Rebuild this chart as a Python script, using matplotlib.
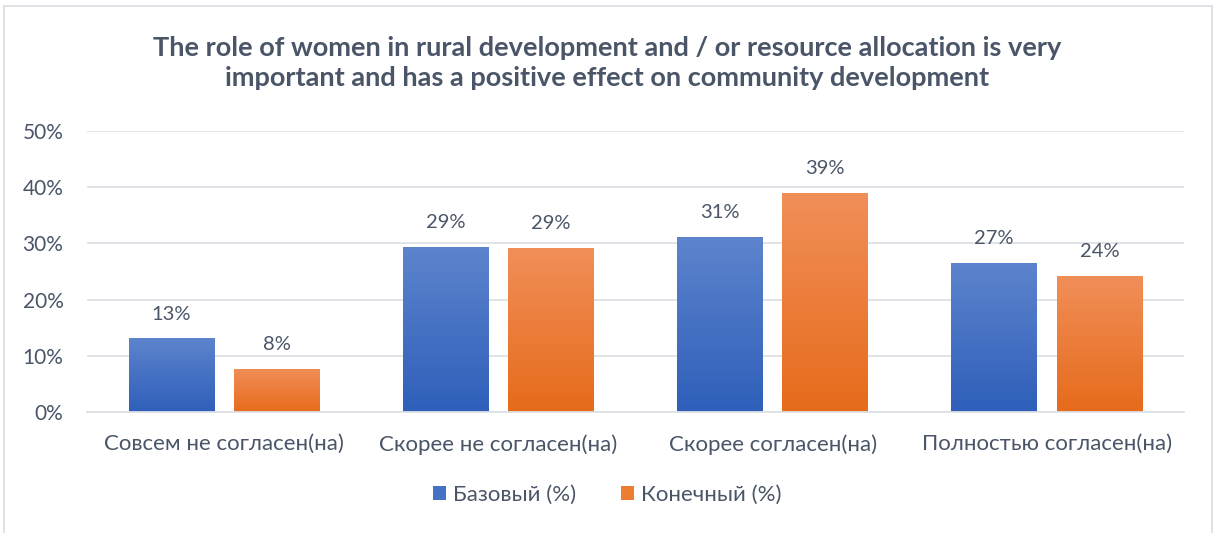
import numpy as np
import matplotlib

matplotlib.use("Agg")
import matplotlib.pyplot as plt
from matplotlib.colors import LinearSegmentedColormap
from matplotlib.patches import Rectangle

categories = [
    "Совсем не согласен(на)",
    "Скорее не согласен(на)",
    "Скорее согласен(на)",
    "Полностью согласен(на)",
]
base_pct = [13.1, 29.4, 31.2, 26.6]
final_pct = [7.7, 29.2, 39.0, 24.2]
series_names = ["Базовый (%)", "Конечный (%)"]

TEXT = "#4a5568"
GRID = "#dde1e6"
BLUE_TOP, BLUE_BOT = "#5d84cd", "#2f5fba"
ORANGE_TOP, ORANGE_BOT = "#f18f59", "#e66b1b"

plt.rcParams["font.family"] = ["Lato", "DejaVu Sans"]

fig = plt.figure(figsize=(12.14, 5.33), dpi=100)
ax = fig.add_axes([87 / 1214, 1 - 412 / 533, (1184 - 87) / 1214, (412 - 131) / 533])

# chart border
fig.patches.append(
    Rectangle((4 / 1214, -0.01), 1208 / 1214, 1 - 6 / 533 + 0.01,
              transform=fig.transFigure, fill=False, edgecolor="#d9dde3", lw=1.2)
)

x = np.arange(len(categories))
width = 0.313
offset = 0.192


def gradient_bars(xs, vals, top, bot):
    cmap = LinearSegmentedColormap.from_list("g", [bot, top])
    grad = np.linspace(0, 1, 256).reshape(-1, 1)
    bars = ax.bar(xs, vals, width, color="none", edgecolor="none")
    for b in bars:
        x0, y0 = b.get_x(), b.get_y()
        w, h = b.get_width(), b.get_height()
        im = ax.imshow(grad, cmap=cmap, origin="lower", aspect="auto",
                       extent=[x0, x0 + w, y0, y0 + h], zorder=2)
        im.set_clip_path(b)
    return bars


b1 = gradient_bars(x - offset, base_pct, BLUE_TOP, BLUE_BOT)
b2 = gradient_bars(x + offset, final_pct, ORANGE_TOP, ORANGE_BOT)

for bars, vals in ((b1, base_pct), (b2, final_pct)):
    for b, v in zip(bars, vals):
        ax.text(b.get_x() + b.get_width() / 2, v + 2.8, "%d%%" % round(v),
                ha="center", va="bottom", fontsize=14.5, color=TEXT)

ax.set_xlim(-0.5, len(categories) - 0.5)
ax.set_ylim(0, 50)
ax.set_yticks(range(0, 51, 10))
ax.set_yticklabels(["%d%%" % t for t in range(0, 51, 10)])
ax.set_xticks(x)
ax.set_xticklabels(categories)
ax.tick_params(axis="both", length=0, labelcolor=TEXT)
ax.tick_params(axis="y", pad=17, labelsize=15)
ax.tick_params(axis="x", pad=16, labelsize=16)
ax.grid(axis="y", color=GRID, lw=1.3)
ax.set_axisbelow(True)
for s in ("top", "right", "left"):
    ax.spines[s].set_visible(False)
ax.spines["bottom"].set_color(GRID)
ax.spines["bottom"].set_linewidth(1.3)

fig.text(0.5, 1 - 63 / 533,
         "The role of women in rural development and / or resource allocation is very\n"
         "important and has a positive effect on community development",
         ha="center", va="center", fontsize=19.5, fontweight="bold", color=TEXT,
         linespacing=1.35)

handles = [Rectangle((0, 0), 1, 1, facecolor="#4472c4"),
           Rectangle((0, 0), 1, 1, facecolor="#ed7d31")]
fig.legend(handles, series_names, loc="center", bbox_to_anchor=(0.5, 1 - 495 / 533),
           ncol=2, frameon=False, fontsize=16, labelcolor=TEXT,
           handlelength=0.6, handleheight=0.6, handletextpad=0.3, columnspacing=2.0)

fig.savefig("out.png", dpi=100)
